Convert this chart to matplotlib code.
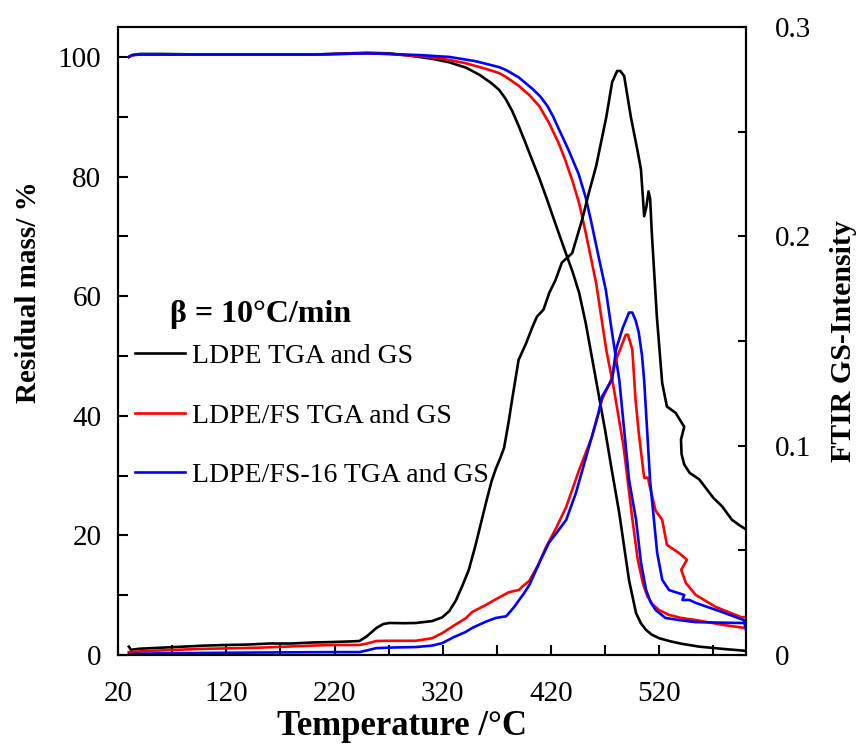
import matplotlib
matplotlib.use("Agg")
import matplotlib.pyplot as plt

plt.rcParams['font.family'] = ['Liberation Serif', 'DejaVu Serif']

# --------------------------
# TGA 残留質量 (%)
# --------------------------
t_ldpe_tga = [30, 33, 40, 60, 100, 150, 200, 250, 270, 290, 310, 326, 341.6, 354, 365, 372,
              378, 384, 390, 396, 402, 409, 416, 425, 434, 440, 446, 452, 458, 464, 470,
              476, 483, 492, 498.5, 503, 507.7, 513, 520, 530, 540, 557, 580, 600]
m_ldpe_tga = [100.0, 100.3, 100.5, 100.5, 100.4, 100.4, 100.4, 100.7, 100.6, 100.2, 99.7, 99.1,
              98.2, 97.0, 95.6, 94.5, 93.0, 91.0, 88.5, 85.8, 83.0, 79.8, 76.3, 71.6, 67.0,
              64.0, 60.5, 55.5, 49.5, 43.5, 37.5, 31.0, 23.7, 12.5, 7.0, 5.3, 4.2, 3.4, 2.8,
              2.3, 1.9, 1.4, 1.0, 0.7]

t_fs_tga = [30, 33, 40, 100, 200, 250, 270, 300, 316.6, 340, 360, 372, 378, 390, 400, 409,
            418, 427, 433, 439.5, 446, 452, 461.6, 471, 478, 487, 494.9, 500, 504.8, 509,
            514, 520, 529, 540, 553.6, 580, 600]
m_fs_tga = [100.0, 100.3, 100.4, 100.4, 100.4, 100.6, 100.5, 100.1, 99.8, 99.0, 98.0, 97.3,
            96.7, 95.2, 93.6, 91.8, 89.0, 85.6, 82.8, 79.4, 75.5, 70.6, 62.2, 51.0, 44.5,
            34.8, 23.0, 16.0, 12.0, 9.8, 8.4, 7.5, 6.7, 6.2, 5.85, 5.0, 4.5]

t_fs16_tga = [30, 33, 40, 100, 200, 250, 270, 300, 326, 350, 372, 378.5, 390, 402.6, 410,
              416.6, 422, 427, 436, 445.5, 452, 457.6, 464, 470.6, 476.4, 483, 492, 498.5,
              503, 507.7, 512, 516.7, 525.6, 540, 553.6, 580, 600]
m_fs16_tga = [100.0, 100.3, 100.4, 100.4, 100.4, 100.6, 100.5, 100.3, 100.0, 99.3, 98.3, 97.8,
              96.6, 94.7, 93.4, 91.8, 90.0, 88.0, 84.5, 80.4, 76.5, 72.0, 66.5, 61.0, 53.8,
              46.0, 29.3, 22.6, 15.5, 10.9, 8.8, 7.5, 6.2, 5.8, 5.5, 5.4, 5.35]

# --------------------------
# FTIR GS 強度
# --------------------------
t_ldpe_gs = [30, 32, 40, 60, 80, 100, 120, 140, 160, 180, 200, 218, 235, 243, 250, 258.6,
             265, 270.5, 285, 295, 310, 319.5, 326, 332, 338, 344, 350, 356, 360, 365, 369,
             373, 376.6, 381, 384, 390, 397, 403, 407, 413, 418.3, 424, 430, 439.5, 448.7,
             455, 461.6, 471, 476.4, 481, 484, 487.5, 493.7, 499.6, 503, 506, 508, 510,
             511.5, 513, 517.7, 522.6, 527, 535, 543, 540, 540.5, 543, 548, 556.7, 570,
             578, 587, 594, 600]
i_ldpe_gs = [0.004, 0.0025, 0.003, 0.0035, 0.004, 0.0045, 0.0048, 0.005, 0.0055, 0.0055,
             0.006, 0.0062, 0.0065, 0.0067, 0.009, 0.0129, 0.0148, 0.0153, 0.0152, 0.0153,
             0.0162, 0.018, 0.021, 0.026, 0.033, 0.0407, 0.052, 0.0646, 0.073, 0.083, 0.089,
             0.094, 0.099, 0.112, 0.122, 0.141, 0.149, 0.157, 0.1617, 0.165, 0.173, 0.179,
             0.1875, 0.192, 0.208, 0.221, 0.2335, 0.257, 0.2737, 0.279, 0.279, 0.2766,
             0.257, 0.2416, 0.232, 0.2096, 0.214, 0.2215, 0.218, 0.202, 0.1617, 0.130,
             0.1187, 0.1157, 0.109, 0.103, 0.096, 0.091, 0.087, 0.084, 0.075, 0.071,
             0.0646, 0.062, 0.060]

t_fs_gs = [30, 50, 95, 150, 200, 218, 243, 250, 258.6, 270, 295, 310, 319.6, 330, 341, 347,
           360, 372, 381, 390.5, 393, 400, 408, 415.5, 425, 434, 446, 457.8, 467, 475.6,
           480, 486, 489, 491, 495, 498, 501, 506, 509.6, 510.5, 516.5, 522.6, 527, 538,
           545.5, 540.2, 544.5, 553.6, 572, 596, 600]
i_fs_gs = [0.0014, 0.002, 0.0029, 0.0035, 0.0045, 0.0048, 0.0048, 0.0055, 0.0067, 0.0068,
           0.0068, 0.008, 0.0105, 0.014, 0.0175, 0.0205, 0.024, 0.0275, 0.030, 0.0311,
           0.0325, 0.0355, 0.043, 0.0517, 0.061, 0.0708, 0.0885, 0.1043, 0.122, 0.1316,
           0.141, 0.149, 0.153, 0.153, 0.146, 0.122, 0.106, 0.0847, 0.0847, 0.082, 0.069,
           0.0646, 0.0526, 0.0488, 0.0455, 0.0407, 0.0344, 0.0287, 0.023, 0.018, 0.0182]

t_fs16_gs = [30, 60, 100, 150, 218, 243, 250, 258.6, 275, 295, 310, 319.6, 330, 341, 347,
             360, 369, 378.5, 381, 386, 390.5, 395, 400, 410, 418, 426, 434, 443, 455, 464,
             467, 476.4, 480, 486, 492, 495, 498, 501, 504, 506, 511.5, 515, 518, 522.7,
             529, 543, 541.3, 547.8, 553.6, 577.6, 598, 600]
i_fs16_gs = [0.0005, 0.0008, 0.001, 0.0012, 0.0014, 0.0014, 0.0022, 0.0033, 0.0036, 0.0038,
             0.0045, 0.0057, 0.0085, 0.011, 0.0129, 0.016, 0.0177, 0.0185, 0.020, 0.023,
             0.0263, 0.0295, 0.0335, 0.045, 0.0536, 0.059, 0.0646, 0.0775, 0.0995, 0.1158,
             0.1234, 0.1316, 0.146, 0.156, 0.1636, 0.1636, 0.160, 0.154, 0.143, 0.131,
             0.083, 0.0646, 0.0488, 0.0359, 0.031, 0.0287, 0.0263, 0.0263, 0.0249, 0.0206,
             0.0167, 0.012]

labels = ["LDPE TGA and GS", "LDPE/FS TGA and GS", "LDPE/FS-16 TGA and GS"]
colors = ["black", "red", "blue"]

x_ticks = list(range(20, 601, 50))
x_ticklabels = [str(v) if (v - 20) % 100 == 0 else "" for v in x_ticks]
y_ticks = list(range(0, 101, 10))
y_ticklabels = [str(v) if v % 20 == 0 else "" for v in y_ticks]
y2_ticks = [0, 0.05, 0.1, 0.15, 0.2, 0.25, 0.3]
y2_ticklabels = ["0", "", "0.1", "", "0.2", "", "0.3"]

fig = plt.figure(figsize=(8.6, 7.51), dpi=100)
ax = fig.add_axes([0.1372, 0.1278, 0.7302, 0.8362])
ax2 = ax.twinx()

lw = 1.9
l1, = ax.plot(t_ldpe_tga, m_ldpe_tga, color=colors[0], lw=lw)
l2, = ax.plot(t_fs_tga, m_fs_tga, color=colors[1], lw=lw)
l3, = ax.plot(t_fs16_tga, m_fs16_tga, color=colors[2], lw=lw)
ax2.plot(t_ldpe_gs, i_ldpe_gs, color=colors[0], lw=lw)
ax2.plot(t_fs_gs, i_fs_gs, color=colors[1], lw=lw)
ax2.plot(t_fs16_gs, i_fs16_gs, color=colors[2], lw=lw)

ax.set_xlim(20, 600)
ax.set_ylim(0, 105)
ax2.set_ylim(0, 0.3)

ax.set_xticks(x_ticks)
ax.set_xticklabels(x_ticklabels)
ax.set_yticks(y_ticks)
ax.set_yticklabels(y_ticklabels)
ax2.set_yticks(y2_ticks)
ax2.set_yticklabels(y2_ticklabels)

for a in (ax, ax2):
    for s in a.spines.values():
        s.set_linewidth(1.5)
ax.tick_params(axis='both', direction='in', length=7, width=1.5, labelsize=21)
ax.tick_params(axis='y', pad=12)
ax.tick_params(axis='x', pad=19)
ax2.tick_params(axis='y', direction='in', length=6, width=1.5, labelsize=21, pad=21)

ax.set_xlabel("Temperature /°C", fontsize=25, fontweight='bold')
ax.xaxis.set_label_coords(0.452, -0.0876)
ax.set_ylabel("Residual mass/ %", fontsize=21, fontweight='bold')
ax.yaxis.set_label_coords(-0.121, 0.578)
ax2.set_ylabel("FTIR GS-Intensity", fontsize=21.5, fontweight='bold')
ax2.yaxis.set_label_coords(1.1335, 0.5)

ax.text(0.083, 0.543, "β = 10°C/min", transform=ax.transAxes, fontsize=23,
        fontweight='bold', va='center', ha='left')
ax.legend([l1, l2, l3], labels, loc='upper left', bbox_to_anchor=(0.027, 0.496),
          frameon=False, borderpad=0, borderaxespad=0, handlelength=1.8,
          handletextpad=0.25, labelspacing=1.23, fontsize=20)

fig.savefig("out.png", dpi=100)
